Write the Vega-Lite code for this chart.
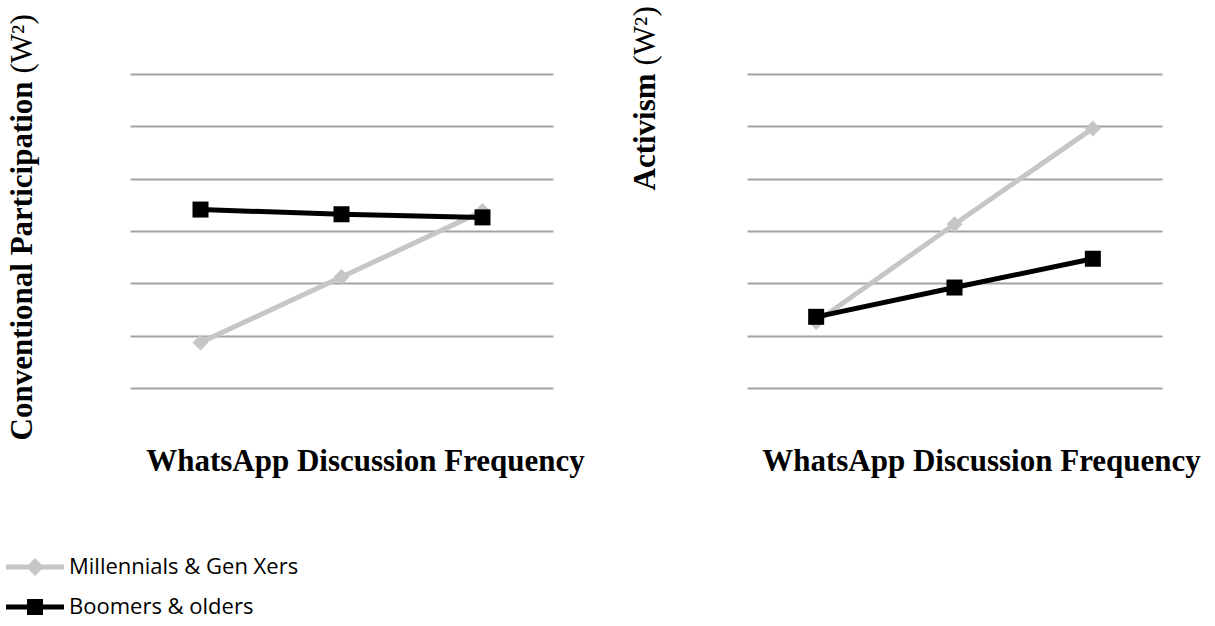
{
  "$schema": "https://vega.github.io/schema/vega-lite/v6.json",
  "padding": {"left": 5, "top": 5, "right": 5, "bottom": 5},
  "background": "white",
  "config": {
    "view": {"stroke": null},
    "axis": {"titleFont": "Liberation Serif", "titleFontSize": 31, "titleFontWeight": "bold", "titleColor": "#000000"},
    "legend": {"padding": 0}
  },
  "datasets": {
    "cp": [
      {"group": "Millennials & Gen Xers", "freq": "Low", "value": 0.87},
      {"group": "Millennials & Gen Xers", "freq": "Medium", "value": 2.12},
      {"group": "Millennials & Gen Xers", "freq": "High", "value": 3.38},
      {"group": "Boomers & olders", "freq": "Low", "value": 3.41},
      {"group": "Boomers & olders", "freq": "Medium", "value": 3.32},
      {"group": "Boomers & olders", "freq": "High", "value": 3.26}
    ],
    "act": [
      {"group": "Millennials & Gen Xers", "freq": "Low", "value": 1.26},
      {"group": "Millennials & Gen Xers", "freq": "Medium", "value": 3.13},
      {"group": "Millennials & Gen Xers", "freq": "High", "value": 4.96},
      {"group": "Boomers & olders", "freq": "Low", "value": 1.36},
      {"group": "Boomers & olders", "freq": "Medium", "value": 1.92},
      {"group": "Boomers & olders", "freq": "High", "value": 2.47}
    ]
  },
  "bounds": "flush",
  "spacing": 194,
  "hconcat": [
    {
      "width": 423,
      "height": 314,
      "data": {"name": "cp"},
      "resolve": {"axis": {"y": "independent"}},
      "layer": [
        {
          "mark": {"type": "line", "strokeWidth": 5},
          "encoding": {
            "x": {"field": "freq", "type": "ordinal", "sort": ["Low", "Medium", "High"], "scale": {"type": "point", "padding": 0.5},
              "axis": {"title": "WhatsApp Discussion Frequency", "labels": false, "ticks": false, "domain": false, "grid": false, "titleX": 235, "titleY": 82, "titleAlign": "center", "titleBaseline": "alphabetic"}},
            "y": {"field": "value", "type": "quantitative", "scale": {"domain": [0, 6], "nice": false, "zero": false},
              "axis": {"orient": "left", "title": "Conventional Participation", "values": [0, 1, 2, 3, 4, 5, 6], "labels": false, "ticks": false, "domain": false, "grid": true, "gridColor": "#a3a3a3", "gridWidth": 2, "titleAngle": 270, "titleAlign": "left", "titleBaseline": "alphabetic", "titleX": -99, "titleY": 366}},
            "color": {"field": "group", "type": "nominal", "scale": {"domain": ["Millennials & Gen Xers", "Boomers & olders"], "range": ["#c6c6c6", "#000000"]},
              "legend": {"title": null, "orient": "none", "legendX": -115, "legendY": 473, "direction": "vertical", "symbolSize": 1600, "labelOffset": 14, "rowPadding": 9, "labelFont": "Open Sans", "labelFontSize": 22, "labelColor": "#000000", "labelLimit": 400,
                "encode": {"symbols": {"update": {
                  "shape": {"signal": "datum.value === 'Boomers & olders' ? 'M-1.45,-0.125H1.45V0.125H-1.45Z M-0.4,-0.4H0.4V0.4H-0.4Z' : 'M-1.45,-0.125H1.45V0.125H-1.45Z M0,-0.45L0.45,0L0,0.45L-0.45,0Z'"},
                  "fill": {"signal": "datum.value === 'Boomers & olders' ? '#000000' : '#c6c6c6'"},
                  "stroke": {"value": "transparent"},
                  "strokeWidth": {"value": 0},
                  "opacity": {"value": 1},
                  "fillOpacity": {"value": 1},
                  "size": {"value": 1600}
                }}}}}
          }
        },
        {
          "mark": {"type": "point", "filled": true, "opacity": 1, "size": 256},
          "encoding": {
            "x": {"field": "freq", "type": "ordinal", "sort": ["Low", "Medium", "High"], "scale": {"type": "point", "padding": 0.5}},
            "y": {"field": "value", "type": "quantitative", "scale": {"domain": [0, 6], "nice": false, "zero": false},
              "axis": {"orient": "left", "title": "(W²)", "titleFontWeight": "normal", "labels": false, "ticks": false, "domain": false, "grid": false, "titleAngle": 270, "titleAlign": "left", "titleBaseline": "alphabetic", "titleX": -99, "titleY": -1}},
            "color": {"field": "group", "type": "nominal"},
            "shape": {"condition": {"test": "datum.group === 'Boomers & olders'", "value": "square"}, "value": "diamond"}
          }
        }
      ]
    },
    {
      "width": 415,
      "height": 314,
      "data": {"name": "act"},
      "resolve": {"axis": {"y": "independent"}},
      "layer": [
        {
          "mark": {"type": "line", "strokeWidth": 5},
          "encoding": {
            "x": {"field": "freq", "type": "ordinal", "sort": ["Low", "Medium", "High"], "scale": {"type": "point", "padding": 0.5},
              "axis": {"title": "WhatsApp Discussion Frequency", "labels": false, "ticks": false, "domain": false, "grid": false, "titleX": 234, "titleY": 82, "titleAlign": "center", "titleBaseline": "alphabetic"}},
            "y": {"field": "value", "type": "quantitative", "scale": {"domain": [0, 6], "nice": false, "zero": false},
              "axis": {"orient": "left", "title": "Activism", "values": [0, 1, 2, 3, 4, 5, 6], "labels": false, "ticks": false, "domain": false, "grid": true, "gridColor": "#a3a3a3", "gridWidth": 2, "titleAngle": 270, "titleAlign": "left", "titleBaseline": "alphabetic", "titleX": -93, "titleY": 116}},
            "color": {"field": "group", "type": "nominal"}
          }
        },
        {
          "mark": {"type": "point", "filled": true, "opacity": 1, "size": 256},
          "encoding": {
            "x": {"field": "freq", "type": "ordinal", "sort": ["Low", "Medium", "High"], "scale": {"type": "point", "padding": 0.5}},
            "y": {"field": "value", "type": "quantitative", "scale": {"domain": [0, 6], "nice": false, "zero": false},
              "axis": {"orient": "left", "title": "(W²)", "titleFontWeight": "normal", "labels": false, "ticks": false, "domain": false, "grid": false, "titleAngle": 270, "titleAlign": "left", "titleBaseline": "alphabetic", "titleX": -93, "titleY": -9}},
            "color": {"field": "group", "type": "nominal"},
            "shape": {"condition": {"test": "datum.group === 'Boomers & olders'", "value": "square"}, "value": "diamond"}
          }
        }
      ]
    }
  ]
}
